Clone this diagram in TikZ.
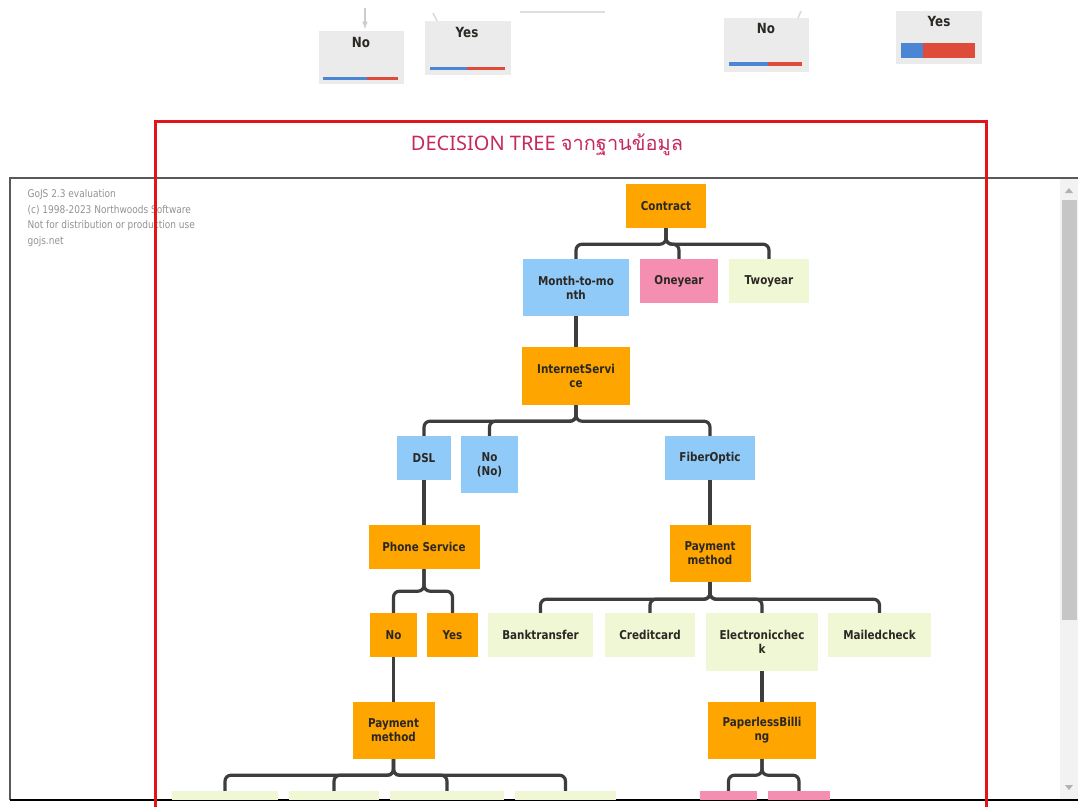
\documentclass[tikz,border=0pt]{standalone}
\usepackage{fontspec}
\setmainfont{DejaVu Sans}
\newfontfamily\nodefont{DejaVu Sans}[FakeStretch=0.85]
\newfontfamily\titlefont{Noto Sans}
\newfontfamily\thaifont[Script=Thai]{Loma}
\usepackage{xcolor}
\usetikzlibrary{positioning,calc}

\definecolor{treeorange}{HTML}{FFA500}
\definecolor{treeblue}{HTML}{90CAF9}
\definecolor{treepink}{HTML}{F48FB1}
\definecolor{treegreen}{HTML}{F0F7D4}
\definecolor{nodetext}{HTML}{2B2824}
\definecolor{linkgray}{HTML}{3D3D3D}
\definecolor{titlered}{HTML}{C52A5B}
\definecolor{boxred}{HTML}{E0161B}
\definecolor{chartgray}{HTML}{EBEBEB}
\definecolor{chartblue}{HTML}{4A86D4}
\definecolor{chartred}{HTML}{DE4B3B}

\tikzset{
  tnode/.style={rectangle, inner sep=0pt, align=center, text=nodetext,
    font=\nodefont\fontsize{12.2}{13.8}\selectfont\bfseries},
  orangenode/.style={tnode, fill=treeorange},
  bluenode/.style={tnode, fill=treeblue},
  pinknode/.style={tnode, fill=treepink},
  greennode/.style={tnode, fill=treegreen},
  link/.style={draw=linkgray, line width=3.2pt, rounded corners=6pt},
  chartbox/.style={fill=chartgray},
  chartlabel/.style={tnode, font=\nodefont\fontsize{14}{16}\selectfont\bfseries},
}

\begin{document}
\begin{tikzpicture}[x=1pt,y=-1pt]
    \useasboundingbox[fill=white] (0,0) rectangle (1078,807);

    % blurred chart strip at the top
    \draw[gray!40, line width=1.5pt, -latex] (365,8) -- (365,29);
    \draw[gray!30, line width=1.5pt] (433,13) -- (437,21);
    \draw[gray!25, line width=2pt] (520,12) -- (605,12);
    \draw[gray!30, line width=1.5pt] (801,11) -- (798,18);

    \fill[chartbox] (319,31) rectangle (404,84);
    \node[chartlabel] (noleft) at (361,42) {No};
    \fill[chartblue] (323,77) rectangle (367,80);
    \fill[chartred] (367,77) rectangle (398,80);

    \fill[chartbox] (425,21) rectangle (511,75);
    \node[chartlabel] (yesleft) at (467,32) {Yes};
    \fill[chartblue] (430,66.5) rectangle (467,69.5);
    \fill[chartred] (467,66.5) rectangle (505,69.5);

    \fill[chartbox] (724,18) rectangle (809,72);
    \node[chartlabel] (noright) at (766,28) {No};
    \fill[chartblue] (729,62) rectangle (768,66);
    \fill[chartred] (768,62) rectangle (802,66);

    \fill[chartbox] (896,11) rectangle (982,64);
    \node[chartlabel] (yesright) at (939,21) {Yes};
    \fill[chartblue] (901,43) rectangle (923,58);
    \fill[chartred] (923,43) rectangle (975,58);

    % title
    \node[font=\titlefont\fontsize{20}{24}\selectfont, text=titlered] (title) at (547,145)
        {DECISION TREE {\thaifont จากฐานข้อมูล}};

    % canvas frame and scrollbar
    \fill[gray!10] (1060,179) rectangle (1078,799);
    \fill[gray!45] (1062,200) rectangle (1077,620);
    \fill[gray!60] (1065,193) -- (1073,193) -- (1069,188) -- cycle;
    \fill[gray!60] (1065,785) -- (1073,785) -- (1069,790) -- cycle;
    \draw[gray!70!black, line width=1.2pt] (10,800) -- (10,178) -- (1078,178);
    \draw[black, line width=1.2pt] (10,800) -- (1078,800);

    \node[anchor=north west, align=left, text=gray!85,
          font=\nodefont\fontsize{10.6}{15.5}\selectfont] (wmark) at (24,186)
        {GoJS 2.3 evaluation\\(c) 1998-2023 Northwoods Software\\Not for distribution or production use\\gojs.net};

    \begin{scope}
    \clip (11,179) rectangle (1059,799);

    \node[orangenode, minimum width=80pt, minimum height=44pt] (contract) at (666,206) {Contract};
    \node[bluenode, minimum width=106pt, minimum height=57pt] (monthly) at (576,287.5) {Month-to-mo\\nth};
    \node[pinknode, minimum width=78pt, minimum height=44pt] (oneyear) at (679,281) {Oneyear};
    \node[greennode, minimum width=80pt, minimum height=44pt] (twoyear) at (769,281) {Twoyear};

    \node[orangenode, minimum width=108pt, minimum height=58pt] (internet) at (576,376) {InternetServi\\ce};
    \node[bluenode, minimum width=54pt, minimum height=44pt] (dsl) at (424,458) {DSL};
    \node[bluenode, minimum width=57pt, minimum height=57pt] (nointernet) at (489.5,464.5) {No\\(No)};
    \node[bluenode, minimum width=90pt, minimum height=44pt] (fiber) at (710,458) {FiberOptic};

    \node[orangenode, minimum width=111pt, minimum height=44pt] (phone) at (424,547) {Phone Service};
    \node[orangenode, minimum width=81pt, minimum height=57pt] (payfiber) at (710,553.5) {Payment\\method};

    \node[orangenode, minimum width=47pt, minimum height=44pt] (phoneno) at (393.5,635) {No};
    \node[orangenode, minimum width=51pt, minimum height=44pt] (phoneyes) at (452.5,635) {Yes};
    \node[greennode, minimum width=105pt, minimum height=44pt] (bank) at (540.5,635) {Banktransfer};
    \node[greennode, minimum width=90pt, minimum height=44pt] (credit) at (650,635) {Creditcard};
    \node[greennode, minimum width=112pt, minimum height=58pt] (echeck) at (762,642) {Electronicchec\\k};
    \node[greennode, minimum width=103pt, minimum height=44pt] (mailed) at (879.5,635) {Mailedcheck};

    \node[orangenode, minimum width=82pt, minimum height=57pt] (paydsl) at (393.5,730.5) {Payment\\method};
    \node[orangenode, minimum width=108pt, minimum height=57pt] (paperless) at (762,730.5) {PaperlessBilli\\ng};

    \node[greennode, minimum width=106pt, minimum height=44pt] (paydslA) at (225,813) {};
    \node[greennode, minimum width=90pt, minimum height=44pt] (paydslB) at (334,813) {};
    \node[greennode, minimum width=114pt, minimum height=44pt] (paydslC) at (447,813) {};
    \node[greennode, minimum width=101pt, minimum height=44pt] (paydslD) at (565.5,813) {};
    \node[pinknode, minimum width=57pt, minimum height=44pt] (paperA) at (728.5,813) {};
    \node[pinknode, minimum width=62pt, minimum height=44pt] (paperB) at (799,813) {};

    % links
    \draw[link] (contract.south) -- ++(0,16) -| (monthly.north);
    \draw[link] (contract.south) -- ++(0,16) -| (oneyear.north);
    \draw[link] (contract.south) -- ++(0,16) -| (twoyear.north);
    \draw[link] (monthly.south) -- (internet.north);
    \draw[link] (internet.south) -- ++(0,16) -| (dsl.north);
    \draw[link] (internet.south) -- ++(0,16) -| (nointernet.north);
    \draw[link] (internet.south) -- ++(0,16) -| (fiber.north);
    \draw[link] (dsl.south) -- (phone.north);
    \draw[link] (fiber.south) -- (payfiber.north);
    \draw[link] (phone.south) -- ++(0,22) -| (phoneno.north);
    \draw[link] (phone.south) -- ++(0,22) -| (phoneyes.north);
    \draw[link] (payfiber.south) -- ++(0,17) -| (bank.north);
    \draw[link] (payfiber.south) -- ++(0,17) -| (credit.north);
    \draw[link] (payfiber.south) -- ++(0,17) -| (echeck.north);
    \draw[link] (payfiber.south) -- ++(0,17) -| (mailed.north);
    \draw[link] (phoneno.south) -- (paydsl.north);
    \draw[link] (echeck.south) -- (paperless.north);
    \draw[link] (paydsl.south) -- ++(0,16) -| (paydslA.north);
    \draw[link] (paydsl.south) -- ++(0,16) -| (paydslB.north);
    \draw[link] (paydsl.south) -- ++(0,16) -| (paydslC.north);
    \draw[link] (paydsl.south) -- ++(0,16) -| (paydslD.north);
    \draw[link] (paperless.south) -- ++(0,16) -| (paperA.north);
    \draw[link] (paperless.south) -- ++(0,16) -| (paperB.north);
    \end{scope}

    % red frame on top
    \draw[boxred, line width=3pt] (155,807) -- (155,121) -- (986,121) -- (986,807);
\end{tikzpicture}
\end{document}
